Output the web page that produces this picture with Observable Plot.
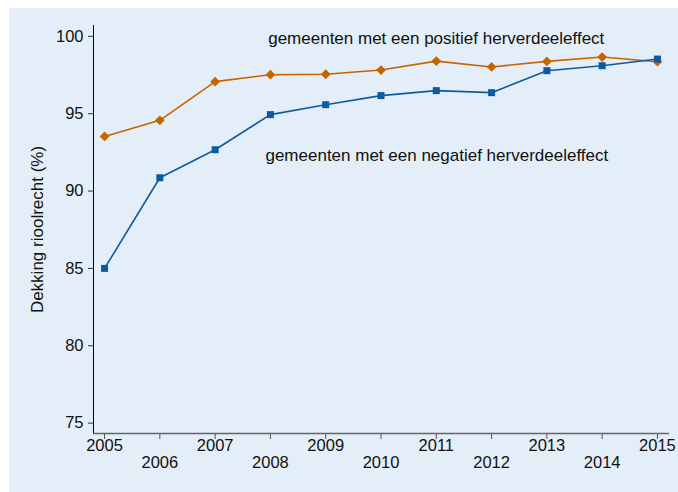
<!DOCTYPE html>
<html><head><meta charset="utf-8">
<script src="https://cdn.jsdelivr.net/npm/d3@7"></script>
<script src="https://cdn.jsdelivr.net/npm/@observablehq/plot@0.6"></script>
<style>
html,body{margin:0;padding:0;background:#fff;}
#chart{position:absolute;left:9px;top:8px;width:669px;height:484px;background:#e4eef8;}
#chart svg{display:block;}
</style></head><body><div id="chart"></div>
<script>
const years = [2005, 2006, 2007, 2008, 2009, 2010, 2011, 2012, 2013, 2014, 2015];
const positief = [93.53, 94.57, 97.07, 97.52, 97.55, 97.82, 98.40, 98.02, 98.38, 98.66, 98.36];
const negatief = [85.00, 90.86, 92.67, 94.94, 95.58, 96.17, 96.49, 96.36, 97.78, 98.10, 98.53];
const yTicks = [75, 80, 85, 90, 95, 100];
const labelPositief = "gemeenten met een positief herverdeeleffect";
const labelNegatief = "gemeenten met een negatief herverdeeleffect";
const yTitle = "Dekking rioolrecht (%)";

const posData = years.map((year, i) => ({year, value: positief[i]}));
const negData = years.map((year, i) => ({year, value: negatief[i]}));
const annotations = [
  {year: 2007.96, value: 99.5, text: labelPositief},
  {year: 2007.91, value: 91.95, text: labelNegatief}
];

const diamond = {
  draw(ctx, size) {
    const r = Math.sqrt(size / 2);
    ctx.moveTo(0, -r); ctx.lineTo(r, 0); ctx.lineTo(0, r); ctx.lineTo(-r, 0); ctx.closePath();
  }
};

const orange = "#c86400";
const blue = "#0c5ba0";
const font = "'Liberation Sans', Arial, Helvetica, sans-serif";

const chart = Plot.plot({
  width: 669, height: 484,
  marginLeft: 84, marginTop: 17, marginBottom: 59, marginRight: 10,
  style: {background: "transparent", fontFamily: font, fontSize: "16.5px", color: "#111"},
  x: {domain: [2004.8, 2015.2]},
  y: {domain: [74.33, 100.7]},
  marks: [
    Plot.axisY(yTicks, {tickSize: 5, tickPadding: 5, fontSize: 16.5, label: null, stroke: "#333"}),
    Plot.axisX(years, {tickSize: 6, tickFormat: () => "", label: null, stroke: "#555"}),
    Plot.frame({anchor: "left", stroke: "#000"}),
    Plot.frame({anchor: "bottom", stroke: "#666", strokeWidth: 1.3}),
    Plot.text(years.filter((d, i) => i % 2 === 0), {x: d => d, text: d => String(d), frameAnchor: "bottom", dy: 17, fontSize: 16.5, fill: "#111"}),
    Plot.text(years.filter((d, i) => i % 2 === 1), {x: d => d, text: d => String(d), frameAnchor: "bottom", dy: 34, fontSize: 16.5, fill: "#111"}),
    Plot.text([yTitle], {text: d => d, frameAnchor: "left", textAnchor: "middle", rotate: -90, dx: -56, fontSize: 17, fill: "#111"}),
    Plot.line(posData, {x: "year", y: "value", stroke: orange, strokeWidth: 1.6}),
    Plot.dot(posData, {x: "year", y: "value", symbol: diamond, r: 3.9, fill: orange, stroke: "none"}),
    Plot.line(negData, {x: "year", y: "value", stroke: blue, strokeWidth: 1.6}),
    Plot.dot(negData, {x: "year", y: "value", symbol: "square", r: 3.95, fill: blue, stroke: "none"}),
    Plot.text(annotations, {x: "year", y: "value", text: "text", textAnchor: "start", lineAnchor: "bottom", fontSize: 17, fill: "#111"})
  ]
});
document.getElementById("chart").appendChild(chart);
</script></body></html>
